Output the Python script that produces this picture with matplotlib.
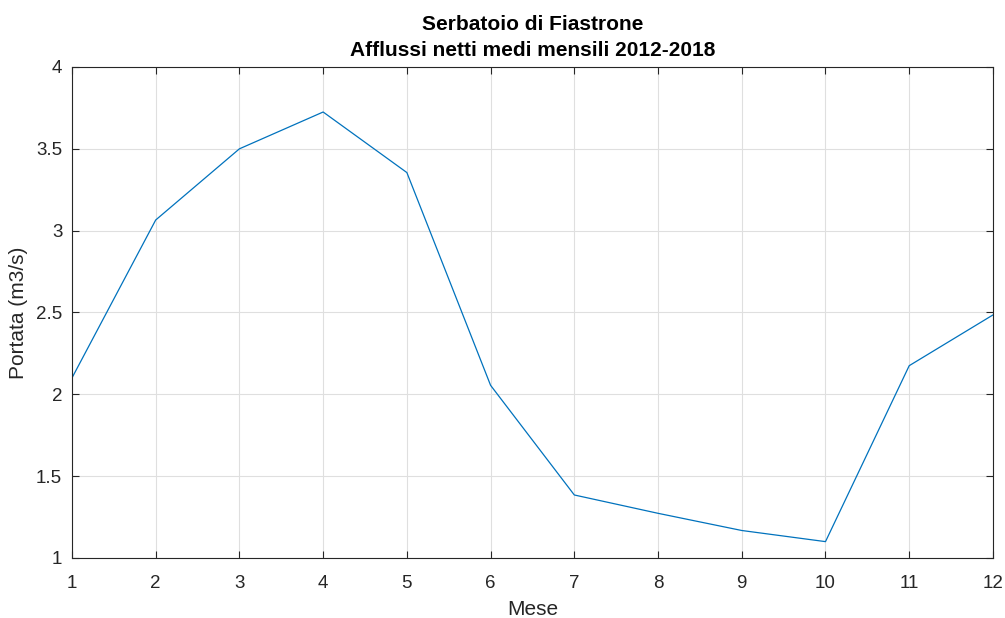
import matplotlib.pyplot as plt

# Mesi e portate medie mensili
mesi = [1, 2, 3, 4, 5, 6, 7, 8, 9, 10, 11, 12]
portata = [2.10, 3.065, 3.50, 3.725, 3.355, 2.055, 1.385, 1.273, 1.168, 1.10, 2.175, 2.485]

plt.rcParams['font.family'] = ['Liberation Sans', 'DejaVu Sans']

fig = plt.figure(figsize=(10.05, 6.18), dpi=100)
ax = fig.add_axes([0.0716, 0.0971, 0.9164, 0.7945])

ax.plot(mesi, portata, color='#0072BD', linewidth=0.9)

ax.set_xlim(1, 12)
ax.set_ylim(1, 4)
ax.set_xticks(mesi)
ax.set_yticks([1, 1.5, 2, 2.5, 3, 3.5, 4])
ax.set_yticklabels(['1', '1.5', '2', '2.5', '3', '3.5', '4'])

ax.grid(True, color='#dfdfdf', linewidth=0.8)
ax.set_axisbelow(True)
ax.tick_params(direction='in', top=True, right=True, length=5, width=0.8,
               colors='#262626', labelsize=13.5)
ax.tick_params(axis='x', pad=12)
ax.tick_params(axis='y', pad=7)
for s in ax.spines.values():
    s.set_color('#262626')
    s.set_linewidth(0.8)

ax.set_xlabel('Mese', fontsize=15, color='#262626', labelpad=6)
ax.set_ylabel('Portata (m3/s)', fontsize=15, color='#262626', labelpad=6)
ax.set_title('Serbatoio di Fiastrone\nAfflussi netti medi mensili 2012-2018',
             fontsize=15, fontweight='bold', color='black', pad=8, linespacing=1.45)

fig.savefig('out.png', dpi=100)
